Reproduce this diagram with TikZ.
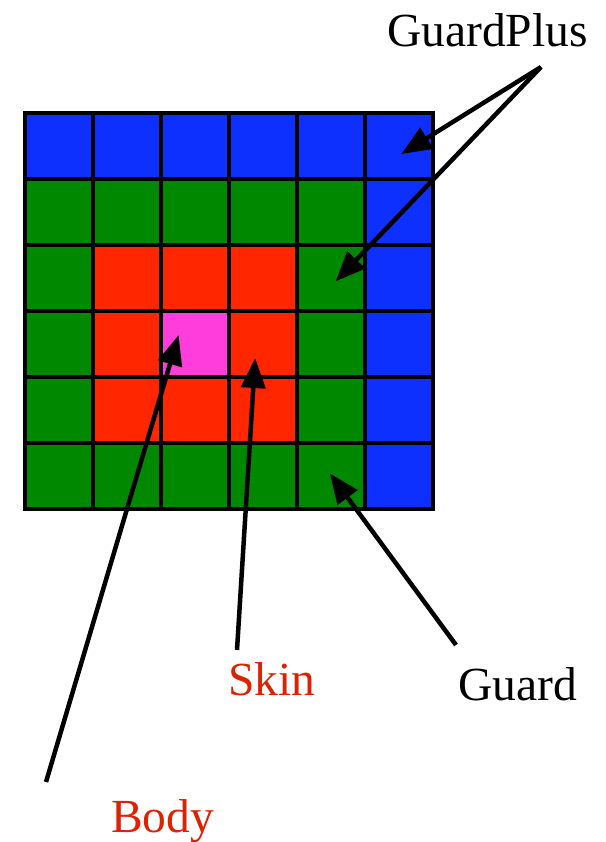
\documentclass[tikz,border=0pt]{standalone}
\usepackage{fontspec}
\setmainfont{Liberation Serif}
\usetikzlibrary{arrows.meta}
\definecolor{cblue}{RGB}{14,48,255}
\definecolor{cgreen}{RGB}{0,136,0}
\definecolor{cred}{RGB}{255,38,0}
\definecolor{cmag}{RGB}{255,60,220}
\definecolor{tred}{RGB}{220,34,0}
\tikzset{
  lbl/.style={anchor=base west, inner sep=0pt, font=\fontsize{47.5}{56}\selectfont},
  ptr/.style={line width=4.5pt, -{Triangle[length=30pt,width=24pt]}, shorten >=-2pt}
}
\begin{document}
\begin{tikzpicture}[x=1pt,y=-1pt]
\useasboundingbox (0,0) rectangle (605,842);
% grid colours row by row (top to bottom)
\foreach \r/\cols in {0/{cblue,cblue,cblue,cblue,cblue,cblue},
                      1/{cgreen,cgreen,cgreen,cgreen,cgreen,cblue},
                      2/{cgreen,cred,cred,cred,cgreen,cblue},
                      3/{cgreen,cred,cmag,cred,cgreen,cblue},
                      4/{cgreen,cred,cred,cred,cgreen,cblue},
                      5/{cgreen,cgreen,cgreen,cgreen,cgreen,cblue}}{
  \foreach \c [count=\i from 0] in \cols {
    \fill[\c] ({25+68*\i},{113+66*\r}) rectangle ++(68,66);
  }
}
\foreach \i in {0,...,6} {
  \draw[line width=4pt] ({25+68*\i},111) -- ({25+68*\i},511);
}
\foreach \j in {0,...,6} {
  \draw[line width=4pt] (23,{113+66*\j}) -- (435,{113+66*\j});
}
% labels
\node[lbl] (gp) at (387,47) {GuardPlus};
\node[lbl, text=tred] (skin) at (228,695) {Skin};
\node[lbl] (guard) at (458,700) {Guard};
\node[lbl, text=tred] (body) at (111,832) {Body};
% connector ends
\coordinate (gpS) at (541,67);
\coordinate (gpT1) at (403,153);
\coordinate (gpT2) at (337,280);
\coordinate (skS) at (237,650);
\coordinate (skT) at (255,360);
\coordinate (gdS) at (456,645);
\coordinate (gdT) at (331,475);
\coordinate (bdS) at (46,782);
\coordinate (bdT) at (178,337);
\draw[ptr] (gpS) -- (gpT1);
\draw[ptr] (gpS) -- (gpT2);
\draw[ptr] (skS) -- (skT);
\draw[ptr] (gdS) -- (gdT);
\draw[ptr] (bdS) -- (bdT);
\end{tikzpicture}
\end{document}
